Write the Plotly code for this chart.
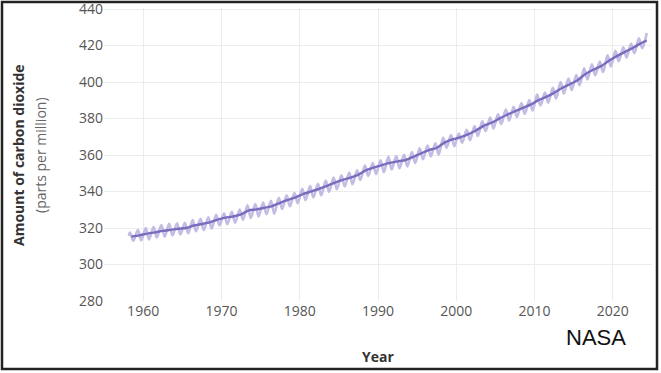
import plotly.graph_objects as go

# ---- data (Mauna Loa CO2, ppm) ----
start_date = ["1958-03"]
start_value = [315.7]

peak_years = list(range(1958, 2025))  # May maxima
peak_values = [317.5, 318.9, 320.0, 320.6, 321.6, 322.3, 322.6, 322.9, 324.4, 325.0,
               325.9, 327.3, 328.1, 328.9, 330.1, 332.5, 333.1, 333.9, 334.9, 336.6,
               338.0, 339.2, 341.5, 343.0, 344.3, 346.0, 347.6, 348.9, 350.4, 351.7,
               354.2, 355.6, 357.1, 359.1, 359.5, 360.2, 361.7, 363.7, 365.2, 366.5,
               369.5, 371.0, 371.8, 373.8, 375.9, 378.5, 380.6, 382.3, 384.9, 386.4,
               388.5, 390.2, 393.2, 394.2, 396.8, 400.0, 401.9, 403.9, 407.6, 409.7,
               411.2, 414.7, 417.1, 419.1, 421.0, 424.0, 426.9]

trough_years = list(range(1958, 2024))  # October minima
trough_values = [313.0, 313.3, 313.8, 314.8, 315.3, 315.9, 316.5, 317.1, 318.2, 318.9,
                 319.7, 321.4, 322.1, 322.9, 324.5, 325.5, 326.4, 327.6, 327.9, 330.4,
                 331.9, 333.6, 335.3, 336.8, 337.9, 339.9, 341.3, 342.8, 344.0, 346.3,
                 348.6, 349.6, 350.6, 352.1, 352.7, 353.8, 355.6, 357.7, 359.2, 360.2,
                 364.0, 364.9, 366.7, 368.1, 370.4, 373.1, 374.5, 377.0, 378.9, 380.9,
                 382.5, 384.4, 387.2, 388.7, 391.0, 393.7, 395.6, 398.3, 401.5, 403.7,
                 405.5, 408.5, 411.5, 413.4, 415.8, 418.5]

trend_dates = [f"{y}-07" for y in range(1958, 2024)] + ["2024-05"]
trend_values = [315.3, 315.98, 316.91, 317.64, 318.45, 318.99, 319.62, 320.04, 321.37, 322.18,
                323.05, 324.62, 325.68, 326.32, 327.46, 329.68, 330.19, 331.12, 332.03, 333.84,
                335.41, 336.84, 338.76, 340.12, 341.48, 343.15, 344.87, 346.35, 347.61, 349.31,
                351.69, 353.20, 354.45, 355.70, 356.54, 357.21, 358.96, 360.97, 362.74, 363.88,
                366.84, 368.54, 369.71, 371.32, 373.45, 375.98, 377.70, 379.98, 382.09, 384.02,
                385.83, 387.64, 390.10, 391.85, 394.06, 396.74, 398.81, 401.01, 404.41, 406.76,
                408.72, 411.66, 414.24, 416.45, 418.56, 421.08, 422.8]

x_tick_vals = ["1960-01-01", "1970-01-01", "1980-01-01", "1990-01-01",
               "2000-01-01", "2010-01-01", "2020-01-01"]
x_tick_text = ["1960", "1970", "1980", "1990", "2000", "2010", "2020"]
y_tick_vals = [280, 300, 320, 340, 360, 380, 400, 420, 440]

# ---- build the seasonal series (chronological order) ----
pairs = list(zip(start_date, start_value))
for i, y in enumerate(peak_years):
    pairs.append((f"{y}-05", peak_values[i]))
    if i < len(trough_years):
        pairs.append((f"{trough_years[i]}-10", trough_values[i]))
season_x = [p[0] for p in pairs]
season_y = [p[1] for p in pairs]

fig = go.Figure()
fig.add_trace(go.Scatter(x=season_x, y=season_y, mode="lines",
                         line=dict(color="#c4bce4", width=2.6, shape="spline", smoothing=1.0),
                         hoverinfo="skip", showlegend=False))
fig.add_trace(go.Scatter(x=trend_dates, y=trend_values, mode="lines",
                         line=dict(color="#7a6cbd", width=2.4, shape="spline", smoothing=0.6),
                         showlegend=False))

W, H = 661, 373
L, R, T, B = 104, 9, 8, 72
pw, ph = W - L - R, H - T - B

def px(xp):
    return (xp - L) / pw

def py(yp):
    return (H - B - yp) / ph

fig.update_layout(
    width=W, height=H,
    margin=dict(l=L, r=R, t=T, b=B, autoexpand=False),
    paper_bgcolor="white", plot_bgcolor="white",
    font=dict(family="Open Sans", size=14, color="#555555"),
    xaxis=dict(type="date", range=["1955-01-01", "2025-01-01"],
               tickvals=x_tick_vals, ticktext=x_tick_text,
               showgrid=True, gridcolor="#ececec", gridwidth=1,
               zeroline=False, showline=False, ticks="", automargin=False,
               tickfont=dict(size=14, color="#555555")),
    yaxis=dict(range=[280, 440.6], tickvals=y_tick_vals,
               showgrid=True, gridcolor="#ececec", gridwidth=1,
               zeroline=False, showline=False, ticks="", automargin=False,
               ticklabeloverflow="allow",
               tickfont=dict(size=14, color="#555555")),
    annotations=[
        dict(text="<b>Amount of carbon dioxide</b>", textangle=-90,
             xref="paper", yref="paper", x=px(18), y=py(155),
             xanchor="center", yanchor="middle", showarrow=False,
             font=dict(family="Open Sans", size=14, color="#333333")),
        dict(text="(parts per million)", textangle=-90,
             xref="paper", yref="paper", x=px(40), y=py(155),
             xanchor="center", yanchor="middle", showarrow=False,
             font=dict(family="Open Sans", size=14, color="#666666")),
        dict(text="<b>Year</b>", xref="paper", yref="paper",
             x=px(378), y=py(356), xanchor="center", yanchor="middle",
             showarrow=False,
             font=dict(family="Open Sans", size=14, color="#333333")),
        dict(text="NASA", xref="paper", yref="paper",
             x=px(628), y=py(338), xanchor="right", yanchor="middle",
             showarrow=False,
             font=dict(family="Liberation Sans", size=22, color="#111111")),
    ],
    shapes=[
        dict(type="rect", xref="paper", yref="paper",
             x0=px(2), x1=px(657), y0=py(369), y1=py(2),
             line=dict(color="#222222", width=2.5), fillcolor="rgba(0,0,0,0)",
             layer="above"),
    ],
)

fig.write_html("out.html", config={"displayModeBar": False},
               post_script="document.body.style.margin='0';document.body.style.padding='0';document.body.style.overflow='hidden';")
